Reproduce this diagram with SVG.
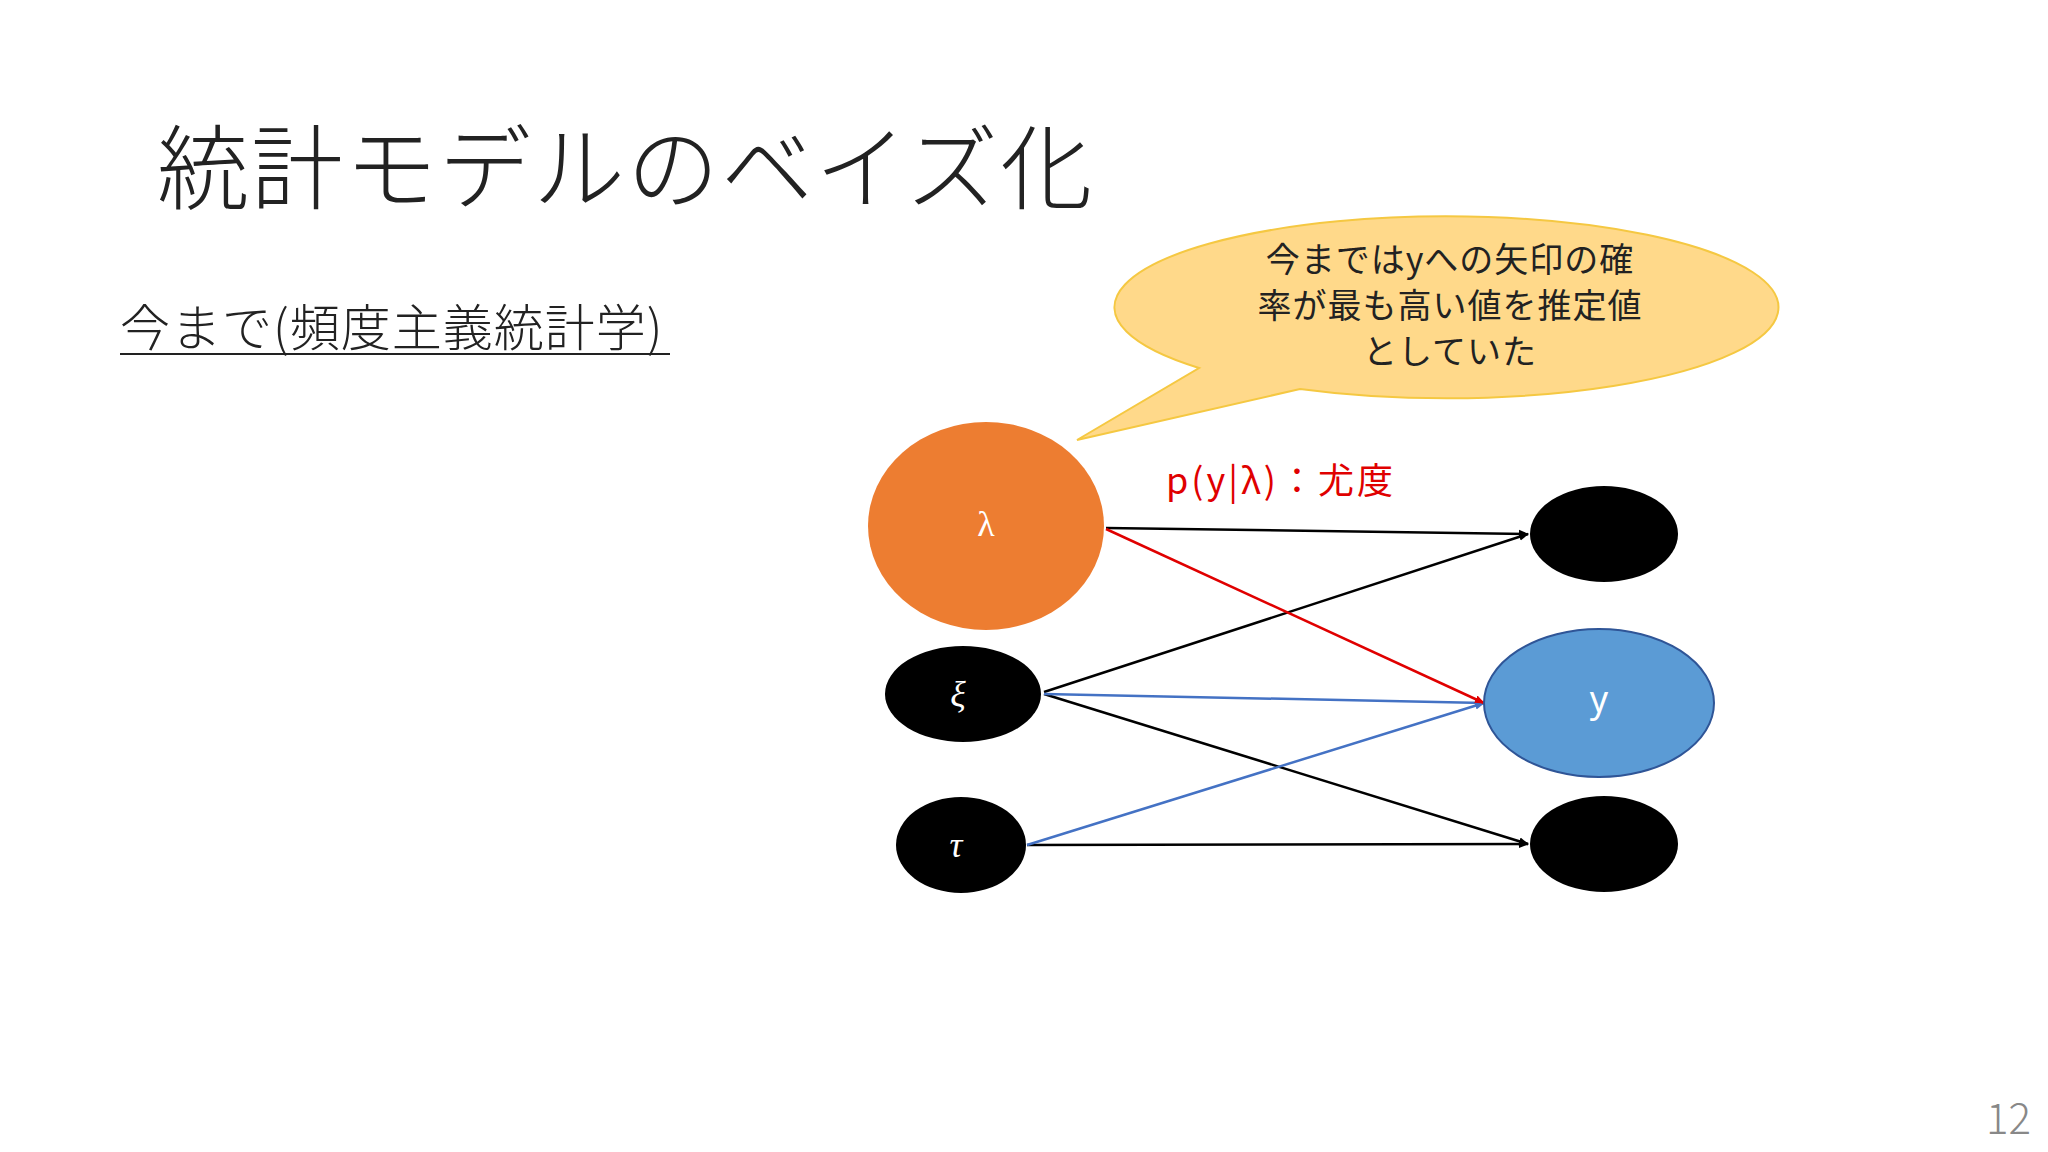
<svg xmlns="http://www.w3.org/2000/svg" width="2048" height="1152" viewBox="0 0 2048 1152">
<style>
.jp{font-family:"Noto Sans CJK JP","Liberation Sans",sans-serif}
.nl{font-family:"Liberation Serif",serif;fill:#fff;font-size:36px;text-anchor:middle}
.e{stroke-width:2.5;fill:none}
</style>
<defs>
<marker id="ak" markerWidth="10" markerHeight="10" refX="9" refY="5" orient="auto" markerUnits="userSpaceOnUse"><path d="M0,1L10,5L0,9z" fill="#000"/></marker>
<marker id="ar" markerWidth="10" markerHeight="10" refX="9" refY="5" orient="auto" markerUnits="userSpaceOnUse"><path d="M0,1L10,5L0,9z" fill="#E00000"/></marker>
<marker id="ab" markerWidth="10" markerHeight="10" refX="9" refY="5" orient="auto" markerUnits="userSpaceOnUse"><path d="M0,1L10,5L0,9z" fill="#4472C4"/></marker>
</defs>
<rect width="2048" height="1152" fill="#fff"/>
<text class="jp" x="157" y="202" font-size="92" font-weight="300" fill="#222" letter-spacing="2">統計モデルのベイズ化</text>
<text class="jp" x="120" y="346" font-size="50" font-weight="300" fill="#222" letter-spacing="1">今まで(頻度主義統計学)</text>
<line x1="120" y1="354" x2="670" y2="354" stroke="#222" stroke-width="2"/>
<g id="bubble">
<path d="M1199,368 A332,91 0 1 1 1300,389 L1077,440 Z" fill="#FFD98A" stroke="#F5C842" stroke-width="2"/>
<text class="jp" x="1450" y="272" font-size="34" text-anchor="middle" fill="#222" letter-spacing="1">今まではyへの矢印の確</text>
<text class="jp" x="1450" y="318" font-size="34" text-anchor="middle" fill="#222" letter-spacing="1">率が最も高い値を推定値</text>
<text class="jp" x="1450" y="364" font-size="34" text-anchor="middle" fill="#222" letter-spacing="1">としていた</text>
</g>
<g id="connectors">
<line class="e" x1="1106" y1="528" x2="1528" y2="534" stroke="#000" marker-end="url(#ak)"/>
<line class="e" x1="1044" y1="692" x2="1528" y2="534" stroke="#000" marker-end="url(#ak)"/>
<line class="e" x1="1044" y1="694" x2="1528" y2="844" stroke="#000" marker-end="url(#ak)"/>
<line class="e" x1="1027" y1="845" x2="1528" y2="844" stroke="#000" marker-end="url(#ak)"/>
<line class="e" x1="1044" y1="694" x2="1484" y2="703" stroke="#4472C4" marker-end="url(#ab)"/>
<line class="e" x1="1027" y1="845" x2="1484" y2="703" stroke="#4472C4" marker-end="url(#ab)"/>
<line class="e" x1="1106" y1="529" x2="1484" y2="703" stroke="#E00000" marker-end="url(#ar)"/>
<text class="jp" x="1166" y="494" font-size="36" fill="#E00000" letter-spacing="3">p(y|λ)：尤度</text>
</g>
<g id="lambda"><ellipse cx="986" cy="526" rx="118" ry="104" fill="#ED7D31"/><text class="nl" x="986" y="536">λ</text></g>
<g id="xi"><ellipse cx="963" cy="694" rx="78" ry="48" fill="#000"/><text class="nl" x="958" y="706" font-style="italic">ξ</text></g>
<g id="tau"><ellipse cx="961" cy="845" rx="65" ry="48" fill="#000"/><text class="nl" x="956" y="857" font-style="italic">τ</text></g>
<g id="top"><ellipse cx="1604" cy="534" rx="74" ry="48" fill="#000"/></g>
<g id="y"><ellipse cx="1599" cy="703" rx="115" ry="74" fill="#5B9BD5" stroke="#2F5597" stroke-width="2"/><text class="nl" x="1599" y="712" style="font-family:'Noto Sans',sans-serif">y</text></g>
<g id="bottom"><ellipse cx="1604" cy="844" rx="74" ry="48" fill="#000"/></g>
<text class="jp" x="2031" y="1134" font-size="42" font-weight="300" fill="#888" text-anchor="end">12</text>
</svg>
